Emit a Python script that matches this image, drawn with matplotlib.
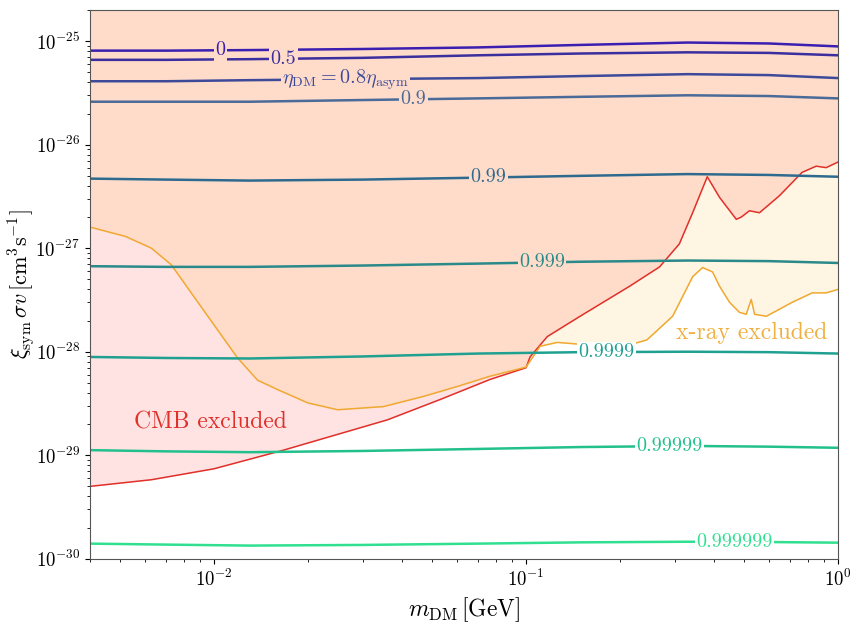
import numpy as np
import matplotlib.pyplot as plt

plt.rcParams['mathtext.fontset'] = 'cm'
plt.rcParams['font.family'] = 'cmr10'
plt.rcParams['axes.formatter.use_mathtext'] = True

# contour curves of eta_DM / eta_asym
m_contour = [0.004, 0.007, 0.013, 0.03, 0.07, 0.15, 0.33, 0.6, 1.0]
levels = ['0', '0.5', '0.8', '0.9', '0.99', '0.999', '0.9999', '0.99999', '0.999999']
contour_y = [
    [8.1e-26, 8.1e-26, 8.2e-26, 8.4e-26, 8.7e-26, 9.2e-26, 9.7e-26, 9.5e-26, 8.9e-26],
    [6.6e-26, 6.6e-26, 6.7e-26, 6.9e-26, 7.3e-26, 7.6e-26, 7.8e-26, 7.7e-26, 7.3e-26],
    [4.1e-26, 4.1e-26, 4.2e-26, 4.3e-26, 4.4e-26, 4.6e-26, 4.8e-26, 4.7e-26, 4.4e-26],
    [2.6e-26, 2.6e-26, 2.6e-26, 2.7e-26, 2.8e-26, 2.9e-26, 3.0e-26, 2.95e-26, 2.8e-26],
    [4.7e-27, 4.6e-27, 4.5e-27, 4.6e-27, 4.8e-27, 5.0e-27, 5.2e-27, 5.1e-27, 4.9e-27],
    [6.7e-28, 6.6e-28, 6.6e-28, 6.8e-28, 7.1e-28, 7.4e-28, 7.6e-28, 7.5e-28, 7.2e-28],
    [8.9e-29, 8.7e-29, 8.6e-29, 9.0e-29, 9.6e-29, 9.9e-29, 1.0e-28, 9.9e-29, 9.6e-29],
    [1.12e-29, 1.09e-29, 1.07e-29, 1.1e-29, 1.15e-29, 1.2e-29, 1.23e-29, 1.21e-29, 1.18e-29],
    [1.40e-30, 1.37e-30, 1.34e-30, 1.36e-30, 1.40e-30, 1.44e-30, 1.46e-30, 1.45e-30, 1.43e-30],
]
label_x = [0.0105, 0.0167, 0.0264, 0.0435, 0.0757, 0.1125, 0.1815, 0.288, 0.466]
label_txt = ['0', '0.5', r'$\eta_{\rm DM} = 0.8\eta_{\rm asym}$', '0.9', '0.99',
             '0.999', '0.9999', '0.99999', '0.999999']
colors = ['#3a1fb0', '#3b2e9e', '#3d4a9a', '#4a6a98', '#2e6a8e',
          '#2a8a8a', '#20a090', '#22c08c', '#30e090']

# CMB bound
m_cmb = [0.004, 0.0063, 0.01, 0.0167, 0.036, 0.053, 0.0767, 0.1, 0.103, 0.117, 0.149,
         0.215, 0.268, 0.31, 0.342, 0.381, 0.417, 0.472, 0.49, 0.52, 0.56, 0.648,
         0.767, 0.851, 0.916, 1.0]
sv_cmb = [5.0e-30, 5.8e-30, 7.4e-30, 1.12e-29, 2.2e-29, 3.45e-29, 5.4e-29, 7.0e-29,
          8.9e-29, 1.4e-28, 2.2e-28, 4.3e-28, 6.6e-28, 1.1e-27, 2.2e-27, 4.9e-27,
          3.1e-27, 1.9e-27, 2.0e-27, 2.3e-27, 2.2e-27, 3.2e-27, 5.4e-27, 6.2e-27,
          6.0e-27, 6.8e-27]

# x-ray bound
m_xray = [0.004, 0.0052, 0.0063, 0.0073, 0.00845, 0.0103, 0.0119, 0.0138, 0.016, 0.020,
          0.0249, 0.0349, 0.0469, 0.060, 0.0767, 0.1, 0.111, 0.126, 0.149, 0.19, 0.244,
          0.295, 0.342, 0.368, 0.396, 0.417, 0.449, 0.483, 0.508, 0.527, 0.54, 0.589,
          0.713, 0.826, 0.916, 1.0]
sv_xray = [1.6e-27, 1.3e-27, 1.0e-27, 6.9e-28, 3.7e-28, 1.6e-28, 8.7e-29, 5.3e-29,
           4.3e-29, 3.2e-29, 2.75e-29, 2.95e-29, 3.7e-29, 4.6e-29, 5.8e-29, 7.1e-29,
           1.13e-28, 1.23e-28, 1.18e-28, 1.05e-28, 1.3e-28, 2.2e-28, 5.3e-28, 6.5e-28,
           5.9e-28, 4.3e-28, 3.0e-28, 2.4e-28, 2.3e-28, 3.2e-28, 2.3e-28, 2.2e-28,
           3.0e-28, 3.7e-28, 3.7e-28, 4.0e-28]

xticks = [0.01, 0.1, 1.0]
yticks = [1e-30, 1e-29, 1e-28, 1e-27, 1e-26, 1e-25]
xmin, xmax = 0.004, 1.0
ymin, ymax = 1e-30, 2e-25

fig = plt.figure(figsize=(8.56, 6.25), dpi=100)
ax = fig.add_axes([0.105, 0.106, 0.874, 0.878])

ax.fill_between(m_cmb, sv_cmb, ymax, color='red', alpha=0.11, lw=0)
ax.fill_between(m_xray, sv_xray, ymax, color='orange', alpha=0.11, lw=0)
ax.plot(m_cmb, sv_cmb, color='#e0302a', lw=1.1)
ax.plot(m_xray, sv_xray, color='#f0a830', lw=1.1)

def bg_at(x, y):
    # background colour under a label
    c = np.array([1.0, 1.0, 1.0])
    if y > np.exp(np.interp(np.log(x), np.log(m_cmb), np.log(sv_cmb))):
        c = c * 0.89 + np.array([1.0, 0.0, 0.0]) * 0.11
    if y > np.exp(np.interp(np.log(x), np.log(m_xray), np.log(sv_xray))):
        c = c * 0.89 + np.array([1.0, 0.647, 0.0]) * 0.11
    return c

for ys, col, lx, txt in zip(contour_y, colors, label_x, label_txt):
    ax.plot(m_contour, ys, color=col, lw=1.8)
    ly = np.exp(np.interp(np.log(lx), np.log(m_contour), np.log(ys)))
    ax.text(lx, ly, txt, color=col, fontsize=14.5, ha='center', va='center',
            bbox=dict(facecolor=bg_at(lx, ly), edgecolor='none', pad=1.0))

ax.text(0.00555, 2.06e-29, 'CMB excluded', color='#e0302a', fontsize=17, va='center')
ax.text(0.922, 1.53e-28, 'x-ray excluded', color='#f0b040', fontsize=17,
        ha='right', va='center')

ax.set_xscale('log')
ax.set_yscale('log')
ax.set_xticks(xticks)
ax.set_yticks(yticks)
ax.set_xlim(xmin, xmax)
ax.set_ylim(ymin, ymax)
ax.tick_params(labelsize=13.5)
ax.set_xlabel(r'$m_{\rm DM}\,[{\rm GeV}]$', fontsize=17)
ax.set_ylabel(r'$\xi_{\rm sym}\,\sigma v\,[{\rm cm}^3{\rm s}^{-1}]$', fontsize=16,
              labelpad=-1)
for s in ax.spines.values():
    s.set_color('#555555')

fig.savefig('out.png', dpi=100)
